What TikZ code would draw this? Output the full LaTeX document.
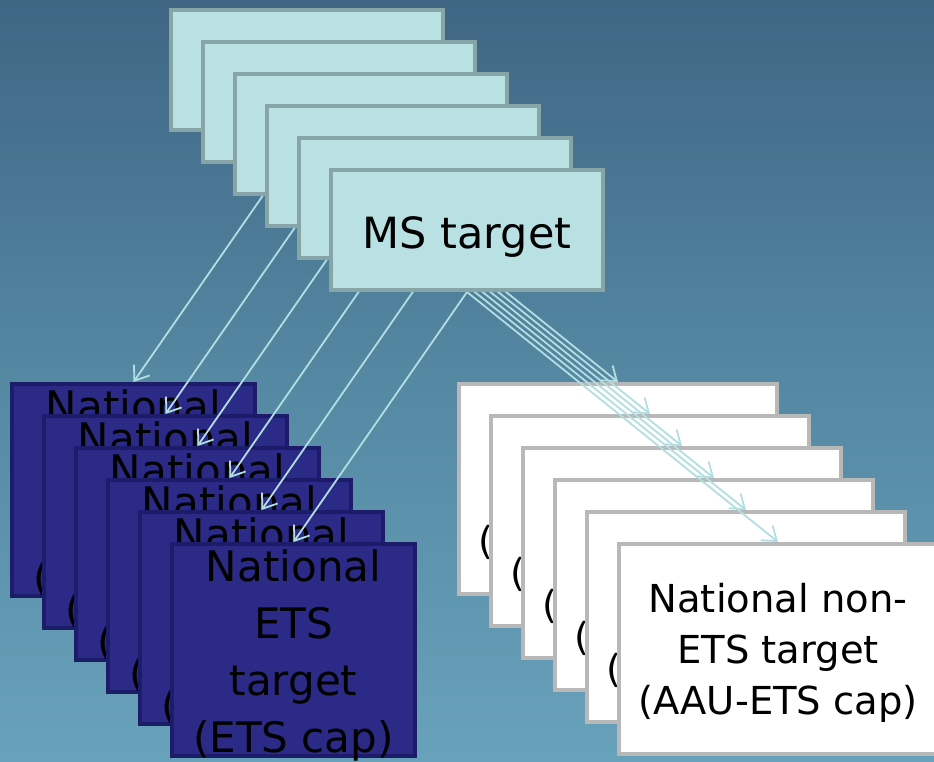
\documentclass[tikz,border=0pt]{standalone}
\usepackage{fontspec}
\setmainfont{DejaVu Sans}
\usetikzlibrary{arrows.meta}
\definecolor{bgtop}{HTML}{3F6684}
\definecolor{bgmid}{HTML}{5588A3}
\definecolor{bgbot}{HTML}{68A2BA}
\definecolor{msfill}{HTML}{B9E0E3}
\definecolor{msline}{HTML}{87A4A6}
\definecolor{etsfill}{HTML}{2B2A87}
\definecolor{etsline}{HTML}{1D1C6A}
\definecolor{nonline}{HTML}{B8B8B8}
\definecolor{arrowcol}{HTML}{B3DEE1}
\pgfdeclarelayer{front}
\pgfsetlayers{main,front}

\begin{document}
\begin{tikzpicture}[x=1pt, y=-1pt, >={Straight Barb[length=13pt,width=19pt]},
    msbox/.style={draw=msline, fill=msfill, line width=4pt, inner sep=0pt,
      minimum width=272pt, minimum height=120pt,
      font=\fontsize{43}{52}\selectfont, text height=36pt, text depth=0pt},
    etsbox/.style={draw=etsline, fill=etsfill, line width=4pt, inner sep=0pt,
      minimum width=243pt, minimum height=212pt, align=center,
      font=\fontsize{42}{57}\selectfont, text height=205pt, text depth=0pt},
    nonbox/.style={draw=nonline, fill=white, line width=4pt, inner sep=0pt,
      minimum width=318pt, minimum height=210pt, align=center,
      font=\fontsize{38.5}{51}\selectfont, text height=131pt, text depth=0pt},
    arrowline/.style={->, draw=arrowcol, line width=1.8pt}]
    \useasboundingbox (0,0) rectangle (934,762);
    \shade[top color=bgtop, bottom color=bgbot, middle color=bgmid] (0,0) rectangle (934,762);
    \clip (0,0) rectangle (934,762);
    \begin{pgfonlayer}{front}
        \foreach \k in {0,...,5}
            \node[msbox] (ms\k) at (307+32*\k, 70+32*\k) {MS target};
    \end{pgfonlayer}
    \foreach \k in {0,...,5}
        \node[etsbox] (ets\k) at (133.5+32*\k, 490+32*\k) {National\\ETS\\target\\(ETS cap)};
    \foreach \k in {0,...,5}
        \node[nonbox] (non\k) at (618+32*\k, 489+32*\k) {National non-\\ETS target\\(AAU-ETS cap)};
    \foreach \k in {0,...,5} {
        \draw[arrowline] (ms\k.south) -- (ets\k.north);
        \draw[arrowline] (ms\k.south) -- (non\k.north);
    }
\end{tikzpicture}
\end{document}
